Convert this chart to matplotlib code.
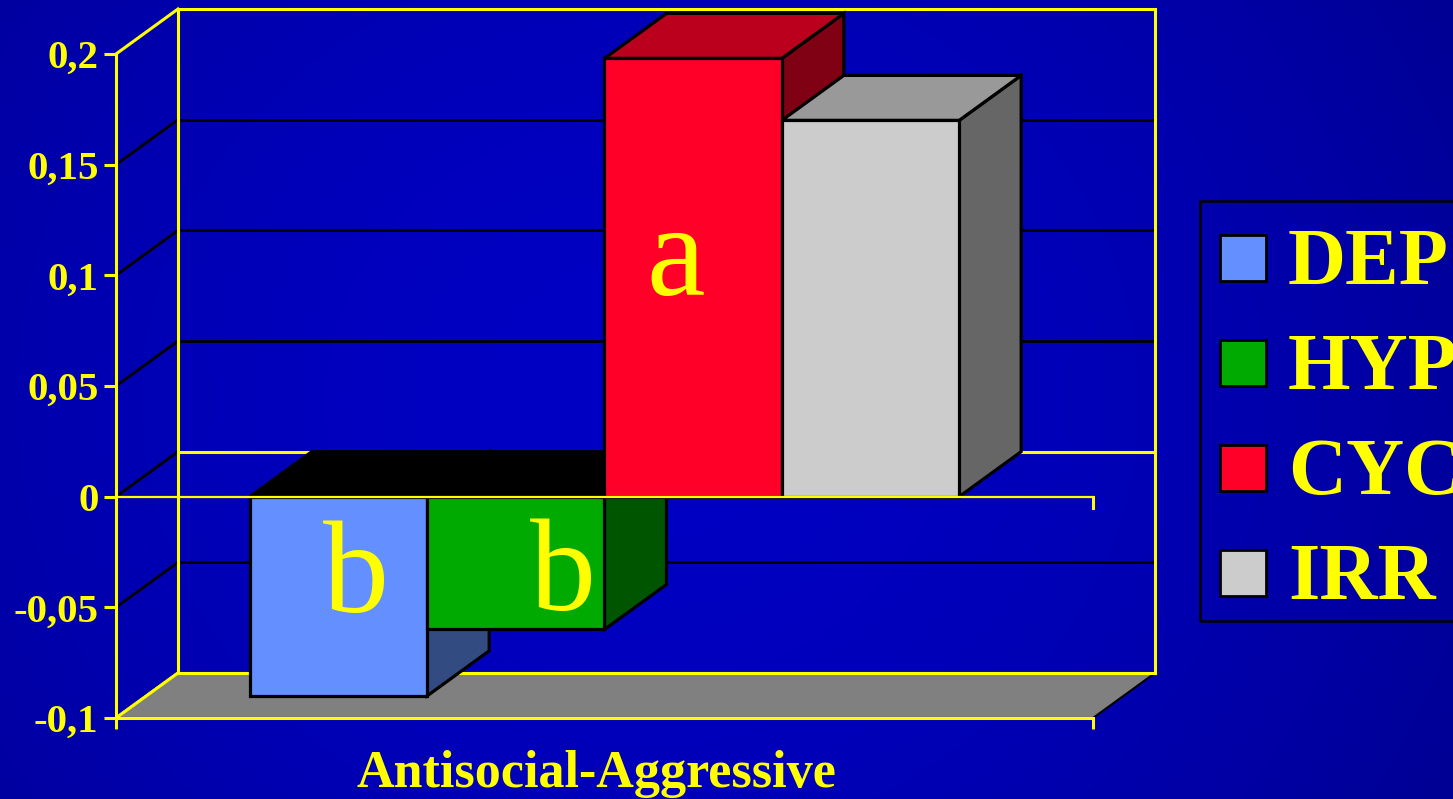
import numpy as np
import matplotlib
matplotlib.use("Agg")
import matplotlib.pyplot as plt
import matplotlib.transforms as mtransforms
from matplotlib.patches import Polygon, Rectangle
from matplotlib.lines import Line2D

# ---- data -------------------------------------------------------------
series = ["DEP", "HYP", "CYC", "IRR"]
values = [-0.09, -0.06, 0.198, 0.17]
letters = ["b", "b", "a", ""]
category = "Antisocial-Aggressive"
yticks = [-0.1, -0.05, 0.0, 0.05, 0.1, 0.15, 0.2]
ytick_labels = ["-0,1", "-0,05", "0", "0,05", "0,1", "0,15", "0,2"]

# ---- style ------------------------------------------------------------
front_colors = ["#6490FF", "#00AA00", "#FF0028", "#CCCCCC"]
side_colors = ["#324B80", "#005500", "#800014", "#666666"]
top_colors = ["#000000", "#000000", "#BB001E", "#999999"]
YELLOW = "#FFFF00"
FLOOR = "#808080"
SERIF = "Liberation Serif"

W, H, DPI = 1453, 799, 100
fig = plt.figure(figsize=(W / DPI, H / DPI), dpi=DPI)

# background gradient
bg = fig.add_axes([0, 0, 1, 1], zorder=-10)
yy, xx = np.mgrid[0:H, 0:W]
t = np.clip(np.hypot((xx - 640) / 1.0, (yy - 400) / 0.9) / 1000.0, 0, 1) ** 1.8
c0 = np.array([0x00, 0x00, 0xC4]) / 255.0
c1 = np.array([0x00, 0x00, 0x8C]) / 255.0
img = c0[None, None, :] * (1 - t[..., None]) + c1[None, None, :] * t[..., None]
bg.imshow(img, aspect="auto", extent=[0, W, H, 0])
bg.set_axis_off()

# front plane of the 3-D plot
ax_l, ax_r, ax_t, ax_b = 116, 1093, 54, 718
ax = fig.add_axes([ax_l / W, 1 - ax_b / H, (ax_r - ax_l) / W, (ax_b - ax_t) / H])
ax.set_xlim(0, 1)
ax.set_ylim(yticks[0], yticks[-1])
ax.patch.set_alpha(0)

# depth offset of the back plane, in data units
depth_px = (62, 45)
DX = depth_px[0] / (ax_r - ax_l) * 1.0
DY = depth_px[1] / (ax_b - ax_t) * (yticks[-1] - yticks[0])
ymin, ymax = yticks[0], yticks[-1]

LW_Y = 2.2
LW_K = 2.0

def line(xs, ys, color, lw, z):
    ax.add_line(Line2D(xs, ys, color=color, lw=lw, zorder=z,
                       solid_capstyle="projecting", clip_on=False))

# back wall gridlines and left-wall diagonals
for yv in yticks:
    edge = yv in (ymin, ymax)
    back_col = YELLOW if (edge or yv == 0) else "black"
    line([DX, 1 + DX], [yv + DY, yv + DY], back_col, LW_Y if back_col == YELLOW else LW_K, 1)
    line([0, DX], [yv, yv + DY], YELLOW if edge else "black", LW_Y if edge else LW_K, 1)
line([DX, DX], [ymin + DY, ymax + DY], YELLOW, LW_Y, 1.5)
line([1 + DX, 1 + DX], [ymin + DY, ymax + DY], YELLOW, LW_Y, 1.5)

# floor
floor = Polygon([(0, ymin), (1, ymin), (1 + DX, ymin + DY), (DX, ymin + DY)],
                closed=True, facecolor=FLOOR, edgecolor="black", lw=1.5,
                zorder=2, clip_on=False)
ax.add_patch(floor)
line([0, DX], [ymin, ymin + DY], YELLOW, LW_Y, 2.5)
line([DX, 1 + DX], [ymin + DY, ymin + DY], YELLOW, LW_Y, 2.5)

# bars
n = len(series)
bw = 0.1815
lefts = [0.5 + (i - n / 2) * bw for i in range(n)]
LW_BAR = 2.3
for i, (x0, v) in enumerate(zip(lefts, values)):
    x1 = x0 + bw
    z = 3 + i
    yt = max(v, 0)
    side = Polygon([(x1, 0), (x1, v), (x1 + DX, v + DY), (x1 + DX, DY)], closed=True,
                   facecolor=side_colors[i], edgecolor="black", lw=LW_BAR,
                   joinstyle="miter", zorder=z, clip_on=False)
    top = Polygon([(x0, yt), (x1, yt), (x1 + DX, yt + DY), (x0 + DX, yt + DY)], closed=True,
                  facecolor=top_colors[i], edgecolor="black", lw=LW_BAR,
                  joinstyle="miter", zorder=z, clip_on=False)
    front = Rectangle((x0, min(v, 0)), bw, abs(v), facecolor=front_colors[i],
                      edgecolor="black", lw=LW_BAR, joinstyle="miter",
                      zorder=z + 0.1, clip_on=False)
    for p in (side, top, front):
        ax.add_patch(p)

# significance letters
letter_pos = [(0.2457, -0.0519), (0.4575, -0.0510), (0.5730, 0.0912), None]
for s, pos in zip(letters, letter_pos):
    if s and pos:
        ax.text(pos[0], pos[1], s, color=YELLOW, fontsize=95, family=SERIF,
                ha="center", va="baseline", zorder=20)

# zero line on the front plane with its end tick
line([0, 1], [0, 0], YELLOW, 1.6, 15)
tick_drop = 11 / (ax_b - ax_t) * (ymax - ymin)
line([1, 1], [0, -tick_drop], YELLOW, LW_Y, 15)

# axes frame, ticks and labels
for s in ("top", "right"):
    ax.spines[s].set_visible(False)
for s in ("left", "bottom"):
    ax.spines[s].set_color(YELLOW)
    ax.spines[s].set_linewidth(LW_Y)
    ax.spines[s].set_zorder(16)
ax.set_yticks(yticks)
ax.set_yticklabels(ytick_labels, family=SERIF, fontweight="bold", fontsize=29.5,
                   color=YELLOW)
ax.tick_params(axis="y", colors=YELLOW, length=8.6, width=LW_Y, pad=4)
ax.set_xticks([0, 1])
ax.set_xticklabels(["", ""])
ax.tick_params(axis="x", colors=YELLOW, length=8, width=LW_Y)

lab_tr = mtransforms.offset_copy(ax.transData, fig=fig, x=0, y=-69 * 72 / DPI, units="points")
ax.text(0.4915, ymin, category, transform=lab_tr, color=YELLOW, family=SERIF,
        fontweight="bold", fontsize=37.5, ha="center", va="baseline")

# legend box
def fx(px):
    return px / W

def fy(py):
    return 1 - py / H

fig.add_artist(Rectangle((fx(1200), fy(621)), fx(1470) - fx(1200), fy(201) - fy(621),
                         transform=fig.transFigure, facecolor="none",
                         edgecolor="black", lw=1.8, zorder=5))
for i, name in enumerate(series):
    cy = 257.5 + i * 105.3
    fig.add_artist(Rectangle((fx(1220), fy(cy + 23)), fx(46), 46 / H,
                             transform=fig.transFigure, facecolor=front_colors[i],
                             edgecolor="black", lw=2.0, zorder=6))
    fig.text(fx(1288), fy(cy + 26), name, color=YELLOW, family=SERIF,
             fontweight="bold", fontsize=58, ha="left", va="baseline", zorder=6)

fig.savefig("out.png", dpi=DPI)
